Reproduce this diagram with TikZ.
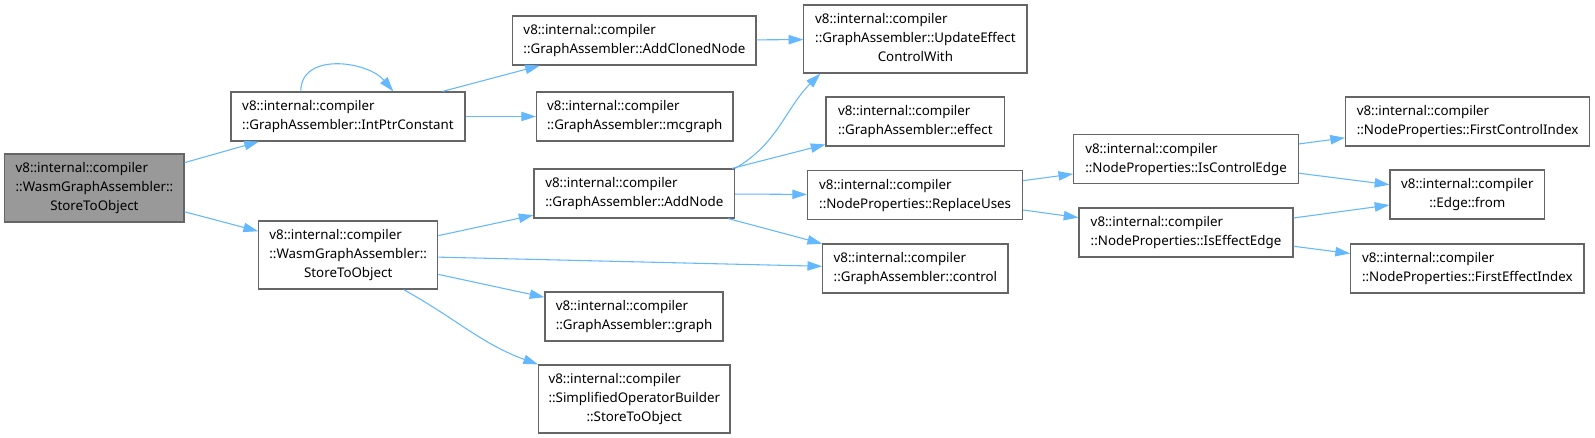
\documentclass[tikz,border=0pt]{standalone}
\usepackage{fontspec}
\setmainfont{Noto Sans}
\usetikzlibrary{arrows.meta}
\definecolor{edgeblue}{HTML}{63B8FF}
\definecolor{framegray}{HTML}{666666}
\definecolor{rootgray}{HTML}{999999}
\newcommand{\fnlines}[1]{\begin{tabular}{@{}l@{}}#1\end{tabular}}
\newcommand{\lastline}[1]{\multicolumn{1}{@{}c@{}}{#1}}

\begin{document}
\begin{tikzpicture}[x=0.75pt, y=0.75pt,
  fn/.style={draw=framegray, line width=0.9pt, fill=white, inner sep=0pt,
    minimum height=36.75pt, font=\fontsize{10pt}{14.25pt}\selectfont},
  fn3/.style={fn, minimum height=51pt},
  call/.style={draw=edgeblue, line width=0.8pt, -{Triangle[length=11pt, width=7pt]}}]
  % call graph of WasmGraphAssembler::StoreToObject
  \fill[white] (0,0) rectangle (1595,438);
  \useasboundingbox (0,0) rectangle (1595,438);

  \node[fn3, fill=rootgray, minimum width=134.3pt] (root) at (94.4,250)
    {\fnlines{v8::internal::compiler\\::WasmGraphAssembler::\\\lastline{StoreToObject}}};
  \node[fn, minimum width=175.5pt] (ipc) at (348,321.5)
    {\fnlines{v8::internal::compiler\\::GraphAssembler::IntPtrConstant}};
  \node[fn3, minimum width=134.3pt] (wsto) at (348.2,183)
    {\fnlines{v8::internal::compiler\\::WasmGraphAssembler::\\\lastline{StoreToObject}}};

  \node[fn, minimum width=182.3pt] (acn) at (634.4,397.5)
    {\fnlines{v8::internal::compiler\\::GraphAssembler::AddClonedNode}};
  \node[fn, minimum width=147.4pt] (mcg) at (634.8,321.5)
    {\fnlines{v8::internal::compiler\\::GraphAssembler::mcgraph}};
  \node[fn, minimum width=150.4pt] (an) at (634.3,244.5)
    {\fnlines{v8::internal::compiler\\::GraphAssembler::AddNode}};
  \node[fn, minimum width=133.5pt] (gr) at (634,121.5)
    {\fnlines{v8::internal::compiler\\::GraphAssembler::graph}};
  \node[fn3, minimum width=143.6pt] (sob) at (634.3,39)
    {\fnlines{v8::internal::compiler\\::SimplifiedOperatorBuilder\\\lastline{::StoreToObject}}};

  \node[fn3, minimum width=167.3pt] (uec) at (915.4,399)
    {\fnlines{v8::internal::compiler\\::GraphAssembler::UpdateEffect\\\lastline{ControlWith}}};
  \node[fn, minimum width=133.9pt] (eff) at (915.3,316.5)
    {\fnlines{v8::internal::compiler\\::GraphAssembler::effect}};
  \node[fn, minimum width=161.3pt] (ru) at (915.1,243)
    {\fnlines{v8::internal::compiler\\::NodeProperties::ReplaceUses}};
  \node[fn, minimum width=139pt] (ctl) at (915.4,169.5)
    {\fnlines{v8::internal::compiler\\::GraphAssembler::control}};

  \node[fn, minimum width=168.4pt] (ice) at (1186,279)
    {\fnlines{v8::internal::compiler\\::NodeProperties::IsControlEdge}};
  \node[fn, minimum width=160.5pt] (iee) at (1186,205.5)
    {\fnlines{v8::internal::compiler\\::NodeProperties::IsEffectEdge}};

  \node[fn, minimum width=183pt] (fci) at (1467.6,316.5)
    {\fnlines{v8::internal::compiler\\::NodeProperties::FirstControlIndex}};
  \node[fn, minimum width=116pt] (efr) at (1467.3,243.5)
    {\fnlines{v8::internal::compiler\\\lastline{::Edge::from}}};
  \node[fn, minimum width=175pt] (fei) at (1467.3,169.5)
    {\fnlines{v8::internal::compiler\\::NodeProperties::FirstEffectIndex}};

  \draw[call] (root) -- (ipc);
  \draw[call] (root) -- (wsto);
  \draw[call] (ipc.152.5) to[out=90, in=130, looseness=1.1] (ipc.29);
  \draw[call] (ipc) -- (acn);
  \draw[call] (ipc) -- (mcg);
  \draw[call] (wsto) -- (an);
  \draw[call] (wsto) -- (ctl);
  \draw[call] (wsto) -- (gr);
  \draw[call] (wsto.-32) to[out=-29, in=160] (sob.north west);
  \draw[call] (acn) -- (uec);
  \draw[call] (an.14.6) to[out=30, in=-135] (uec.-160);
  \draw[call] (an) -- (eff);
  \draw[call] (an) -- (ru);
  \draw[call] (an) -- (ctl);
  \draw[call] (ru) -- (ice);
  \draw[call] (ru) -- (iee);
  \draw[call] (ice) -- (fci);
  \draw[call] (ice) -- (efr);
  \draw[call] (iee) -- (efr);
  \draw[call] (iee) -- (fei);
\end{tikzpicture}
\end{document}
